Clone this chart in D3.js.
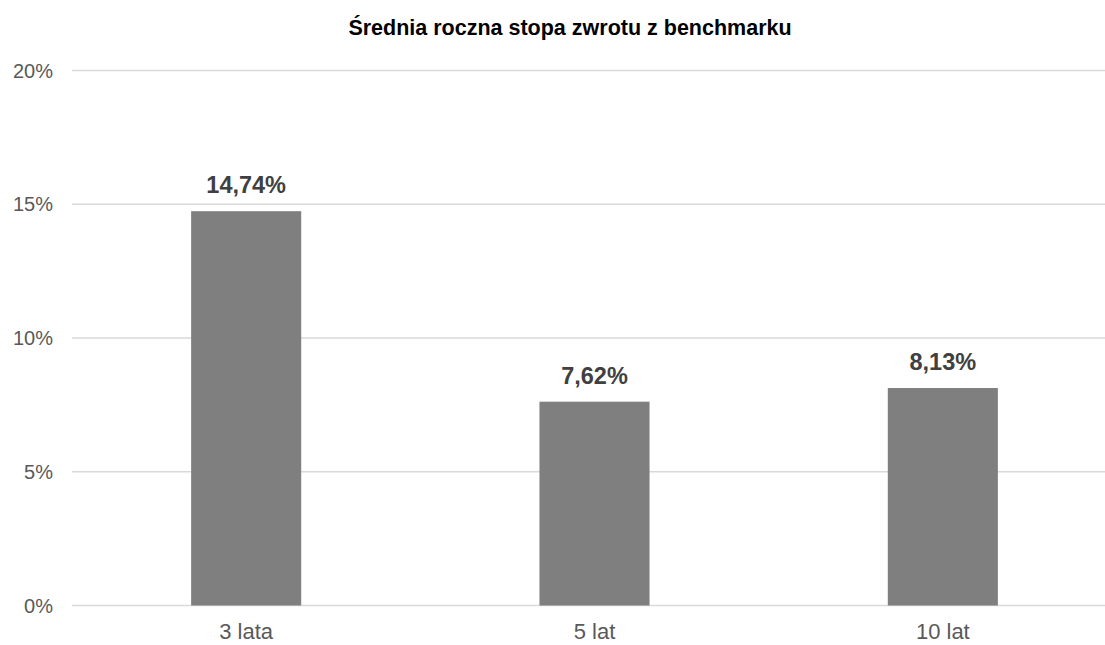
<!DOCTYPE html>
<html><head><meta charset="utf-8">
<script src="https://cdn.jsdelivr.net/npm/d3@7"></script>
<style>body{margin:0;background:#fff}svg{display:block}text{font-family:"Liberation Sans",Arial,sans-serif}</style>
</head><body><svg id="c" width="1105" height="645"></svg>
<script>
const categories = ["3 lata", "5 lat", "10 lat"];
const values = [14.74, 7.62, 8.13];
const valueLabels = ["14,74%", "7,62%", "8,13%"];
const yTicks = [0, 5, 10, 15, 20];
const title = "Średnia roczna stopa zwrotu z benchmarku";

const svg = d3.select("#c");
const x = d3.scaleBand().domain(categories).range([72, 1117]).paddingInner(0.684).paddingOuter(0.342);
const y = d3.scaleLinear().domain([0, 20]).range([605.5, 70.5]);

svg.append("g").selectAll("line").data(yTicks).join("line")
  .attr("x1", 72).attr("x2", 1105).attr("y1", d => y(d)).attr("y2", d => y(d))
  .attr("stroke", "#d9d9d9").attr("stroke-width", 1.5);

svg.append("g").selectAll("text").data(yTicks).join("text")
  .attr("x", 53).attr("y", d => y(d) + 7).attr("text-anchor", "end")
  .attr("font-size", 20).attr("fill", "#595959").text(d => d + "%");

svg.append("g").selectAll("rect").data(values).join("rect")
  .attr("x", (d, i) => x(categories[i])).attr("width", x.bandwidth())
  .attr("y", d => y(d)).attr("height", d => y(0) - y(d)).attr("fill", "#7f7f7f");

svg.append("g").selectAll("text").data(values).join("text")
  .attr("x", (d, i) => x(categories[i]) + x.bandwidth() / 2).attr("y", d => y(d) - 18)
  .attr("text-anchor", "middle").attr("font-size", 23.5).attr("font-weight", "bold")
  .attr("fill", "#404040").text((d, i) => valueLabels[i]);

svg.append("g").selectAll("text").data(categories).join("text")
  .attr("x", d => x(d) + x.bandwidth() / 2).attr("y", 639)
  .attr("text-anchor", "middle").attr("font-size", 22).attr("fill", "#595959").text(d => d);

svg.append("text").attr("x", 570).attr("y", 35).attr("text-anchor", "middle")
  .attr("font-size", 21.5).attr("font-weight", "bold").attr("fill", "#000").text(title);
</script></body></html>
